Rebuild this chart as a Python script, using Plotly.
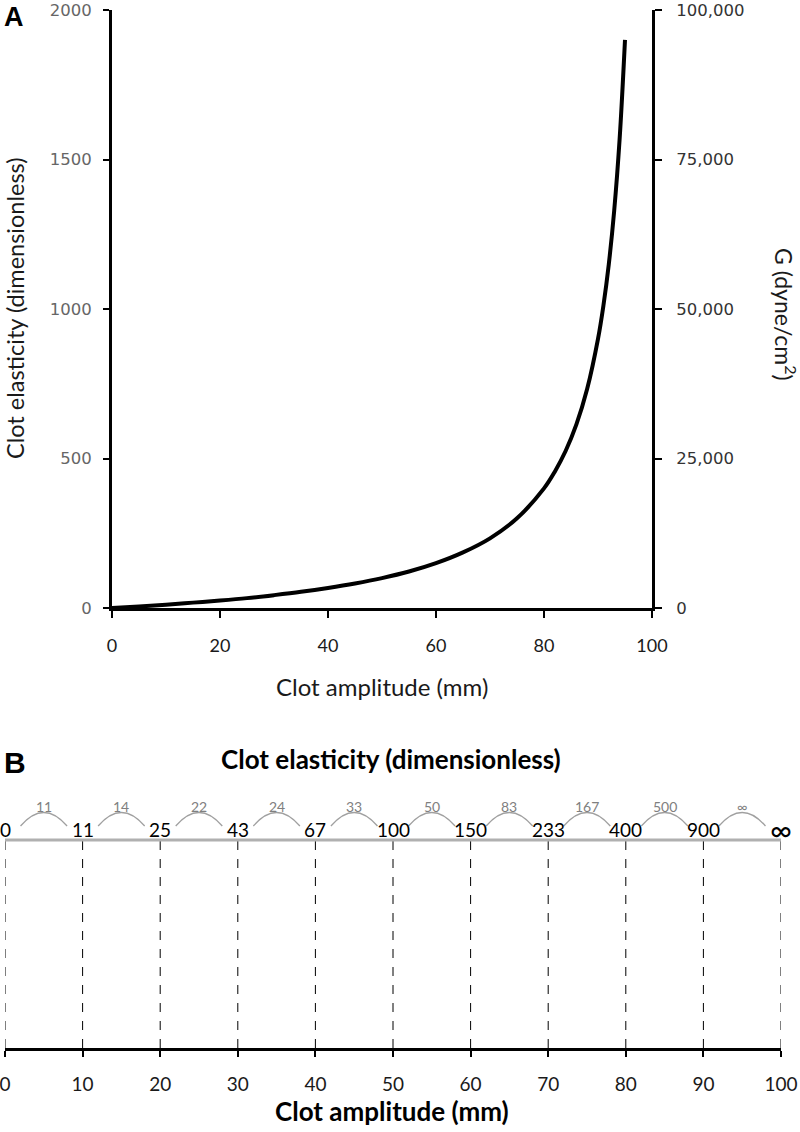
import plotly.graph_objects as go

# ---- Panel A data ----
amplitude_mm = [0, 5, 10, 15, 20, 25, 30, 35, 40, 45, 50, 55, 60, 65, 70, 75, 80, 82, 84, 86, 88, 90, 91, 92, 93, 94, 95]
elasticity = [0, 5, 11, 18, 25, 33, 43, 54, 67, 82, 100, 122, 150, 186, 233, 300, 400, 456, 525, 614, 733, 900, 1011, 1150, 1329, 1567, 1900]
left_ticks = [0, 500, 1000, 1500, 2000]
right_ticks = [0, 25000, 50000, 75000, 100000]
right_ticktext = ["0", "25,000", "50,000", "75,000", "100,000"]
x_ticks_a = [0, 20, 40, 60, 80, 100]

# ---- Panel B data ----
scale_amp = [0, 10, 20, 30, 40, 50, 60, 70, 80, 90, 100]
scale_elast_labels = ["0", "11", "25", "43", "67", "100", "150", "233", "400", "900", "∞"]
step_labels = ["11", "14", "22", "24", "33", "50", "83", "167", "500", "∞"]

H = 1132.0
W = 800.0
def py(px):
    return 1 - px / H

BODY = "Lato, 'Open Sans', sans-serif"
NUM = "'DejaVu Sans', Verdana, sans-serif"

fig = go.Figure()

fig.add_trace(go.Scatter(x=amplitude_mm, y=elasticity, mode="lines",
                         line=dict(color="black", width=4, shape="spline"),
                         xaxis="x", yaxis="y", showlegend=False, hoverinfo="skip"))
fig.add_trace(go.Scatter(x=[0], y=[0], mode="markers", marker=dict(opacity=0),
                         xaxis="x", yaxis="y2", showlegend=False, hoverinfo="skip"))
# Panel B base trace
fig.add_trace(go.Scatter(x=scale_amp, y=[0] * len(scale_amp), mode="markers",
                         marker=dict(opacity=0), xaxis="x3", yaxis="y3",
                         showlegend=False, hoverinfo="skip"))

ax_a_left = 112 / W
ax_a_right = 652 / W
b_left = 5 / W
b_right = 781 / W

fig.update_layout(
    width=800, height=1132,
    margin=dict(l=0, r=0, t=0, b=0, autoexpand=False),
    paper_bgcolor="white", plot_bgcolor="white",
    xaxis=dict(domain=[ax_a_left, ax_a_right], range=[0, 100], tickvals=x_ticks_a,
               showline=True, linecolor="black", linewidth=3, ticks="outside",
               ticklen=7, tickwidth=2, tickcolor="black", showgrid=False, zeroline=False,
               tickfont=dict(family=BODY, size=18, color="#1a1a1a"), automargin=False,
               ticklabelstandoff=12, ticklabeloverflow="allow", anchor="y"),
    yaxis=dict(domain=[py(608), py(10)], range=[0, 2000], tickvals=left_ticks,
               showline=True, linecolor="black", linewidth=3, ticks="outside",
               ticklen=6, tickwidth=2, tickcolor="black", showgrid=False, zeroline=False,
               tickfont=dict(family=NUM, size=16.5, color="#666666"), automargin=False,
               ticklabelstandoff=8, ticklabeloverflow="allow", anchor="x"),
    yaxis2=dict(domain=[py(608), py(10)], range=[0, 100000], tickvals=right_ticks,
                ticktext=right_ticktext, overlaying="y", side="right", anchor="x",
                showline=True, linecolor="black", linewidth=3, ticks="outside",
                ticklen=7, tickwidth=2, tickcolor="black", showgrid=False, zeroline=False,
                tickfont=dict(family=NUM, size=16.5, color="#333333"), automargin=False,
                ticklabelstandoff=11, ticklabeloverflow="allow"),
    xaxis3=dict(domain=[b_left, b_right], range=[0, 100], tickvals=scale_amp,
                showline=True, linecolor="black", linewidth=3, ticks="outside",
                ticklen=6, tickwidth=2, tickcolor="black", showgrid=False, zeroline=False,
                tickfont=dict(family=BODY, size=19, color="#1a1a1a"), automargin=False,
                ticklabelstandoff=11, ticklabeloverflow="allow", anchor="y3"),
    yaxis3=dict(domain=[py(1048), py(840)], range=[0, 1], visible=False, anchor="x3"),
)

shapes = []
# dashed verticals and gray top line in panel B
for a in scale_amp:
    shapes.append(dict(type="line", xref="x3", yref="paper", x0=a, x1=a,
                       y0=py(1048), y1=py(841), line=dict(color="black", width=1, dash="dash")))
shapes.append(dict(type="line", xref="x3", yref="paper", x0=0, x1=100,
                   y0=py(840), y1=py(840), line=dict(color="#b0b0b0", width=3)))
# arcs between consecutive elasticity values
for i in range(len(step_labels)):
    a0 = scale_amp[i] + 2.0
    a1 = scale_amp[i + 1] - 2.0
    am = (a0 + a1) / 2
    y_end = py(826)
    y_ctrl = py(799)
    shapes.append(dict(type="path", xref="x3", yref="paper",
                       path=f"M {a0},{y_end} Q {am},{y_ctrl} {a1},{y_end}",
                       line=dict(color="#a0a0a0", width=1.3)))
fig.update_layout(shapes=shapes)

ann = []
ann.append(dict(text="<b>A</b>", x=2 / W, y=py(17), xref="paper", yref="paper",
                showarrow=False, xanchor="left", yanchor="middle",
                font=dict(family="'Liberation Sans', Arial", size=27, color="black")))
ann.append(dict(text="<b>B</b>", x=2 / W, y=py(762), xref="paper", yref="paper",
                showarrow=False, xanchor="left", yanchor="middle",
                font=dict(family="'Liberation Sans', Arial", size=30, color="black")))
ann.append(dict(text="Clot amplitude (mm)", x=(ax_a_left + ax_a_right) / 2, y=py(686),
                xref="paper", yref="paper", showarrow=False, xanchor="center", yanchor="middle",
                font=dict(family=BODY, size=24, color="#1a1a1a")))
ann.append(dict(text="Clot elasticity (dimensionless)", x=15 / W, y=py(308),
                xref="paper", yref="paper", showarrow=False, textangle=-90,
                xanchor="center", yanchor="middle",
                font=dict(family=BODY, size=23.5, color="#1a1a1a")))
ann.append(dict(text="G (dyne/cm<sup>2</sup>)", x=785 / W, y=py(314),
                xref="paper", yref="paper", showarrow=False, textangle=90,
                xanchor="center", yanchor="middle",
                font=dict(family=BODY, size=23, color="#1a1a1a")))
ann.append(dict(text="<b>Clot elasticity (dimensionless)</b>", x=391 / W, y=py(759),
                xref="paper", yref="paper", showarrow=False, xanchor="center", yanchor="middle",
                font=dict(family=BODY, size=26, color="black")))
ann.append(dict(text="<b>Clot amplitude (mm)</b>", x=392 / W, y=py(1111),
                xref="paper", yref="paper", showarrow=False, xanchor="center", yanchor="middle",
                font=dict(family=BODY, size=26, color="black")))
for a, lab in zip(scale_amp, scale_elast_labels):
    size = 30 if lab == "∞" else 19
    ann.append(dict(text=lab, x=a, y=py(829), xref="x3", yref="paper", showarrow=False,
                    xanchor="center", yanchor="middle",
                    font=dict(family=BODY, size=size, color="black")))
for i, lab in enumerate(step_labels):
    am = (scale_amp[i] + scale_amp[i + 1]) / 2
    ann.append(dict(text=lab, x=am, y=py(806), xref="x3", yref="paper", showarrow=False,
                    xanchor="center", yanchor="middle",
                    font=dict(family=BODY, size=14, color="#808080")))
fig.update_layout(annotations=ann)

fig.write_html("out.html", config={"displayModeBar": False},
               post_script="document.body.style.margin='0';document.body.style.overflow='hidden';")
